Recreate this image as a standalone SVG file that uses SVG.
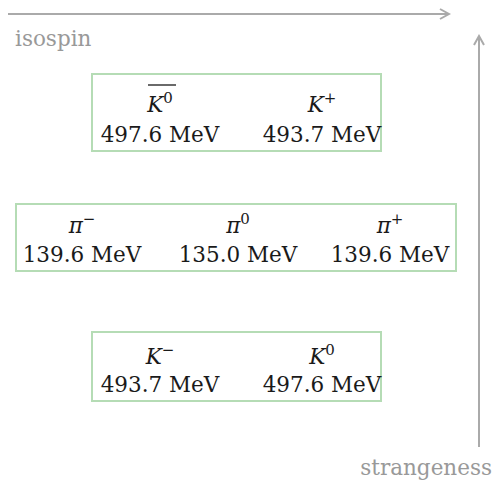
<svg xmlns="http://www.w3.org/2000/svg" width="496" height="484" viewBox="0 0 496 484">
<defs>
<marker id="arr" viewBox="0 0 12 12" refX="10" refY="6" markerWidth="12" markerHeight="12" markerUnits="userSpaceOnUse" orient="auto">
<path d="M1,1 L10,6 L1,11" fill="none" stroke="#aaaaaa" stroke-width="2"/>
</marker>
<style>
.box{fill:#ffffff;stroke:#b5dcb5;stroke-width:2}
.t{font-size:21.5px;fill:#1a1a1a;text-anchor:middle}
.i{font-style:italic}
.sup{font-size:15px;font-style:normal}
.lab{font-size:21.5px;fill:#999999}
.ax{stroke:#aaaaaa;stroke-width:2;fill:none}
</style>
</defs>
<g font-family="'DejaVu Serif', serif">
<g id="connectors">
<line class="ax" x1="8" y1="14" x2="449" y2="14" marker-end="url(#arr)"/>
<line class="ax" x1="479" y1="447" x2="479" y2="36" marker-end="url(#arr)"/>
</g>
<g id="axis-isospin"><text class="lab" x="15" y="46">isospin</text></g>
<g id="axis-strangeness"><text class="lab" x="492" y="475" text-anchor="end">strangeness</text></g>
<g id="kaons-top">
<rect class="box" x="92" y="74" width="289" height="77"/>
<text class="t" x="160" y="112"><tspan class="i">K</tspan><tspan class="sup" dy="-9">0</tspan></text>
<line x1="148" y1="85" x2="176" y2="85" stroke="#1a1a1a" stroke-width="1.3"/>
<text class="t" x="160" y="142">497.6 MeV</text>
<text class="t" x="322" y="112"><tspan class="i">K</tspan><tspan class="sup" dy="-9">+</tspan></text>
<text class="t" x="322" y="142">493.7 MeV</text>
</g>
<g id="pions">
<rect class="box" x="16" y="204" width="440" height="67"/>
<text class="t" x="82" y="233"><tspan class="i">π</tspan><tspan class="sup" dy="-9">−</tspan></text>
<text class="t" x="82" y="262">139.6 MeV</text>
<text class="t" x="238" y="233"><tspan class="i">π</tspan><tspan class="sup" dy="-9">0</tspan></text>
<text class="t" x="238" y="262">135.0 MeV</text>
<text class="t" x="390" y="233"><tspan class="i">π</tspan><tspan class="sup" dy="-9">+</tspan></text>
<text class="t" x="390" y="262">139.6 MeV</text>
</g>
<g id="kaons-bottom">
<rect class="box" x="92" y="332" width="289" height="69"/>
<text class="t" x="160" y="364"><tspan class="i">K</tspan><tspan class="sup" dy="-9">−</tspan></text>
<text class="t" x="160" y="392">493.7 MeV</text>
<text class="t" x="322" y="364"><tspan class="i">K</tspan><tspan class="sup" dy="-9">0</tspan></text>
<text class="t" x="322" y="392">497.6 MeV</text>
</g>
</g>
</svg>
